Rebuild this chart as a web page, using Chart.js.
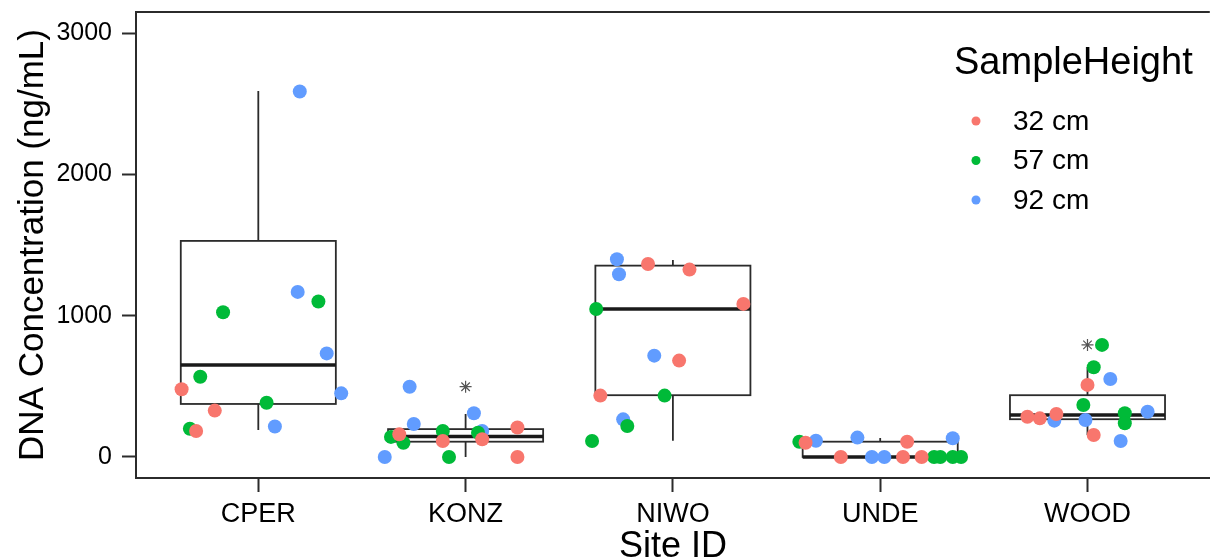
<!DOCTYPE html>
<html>
<head>
<meta charset="utf-8">
<script src="https://cdn.jsdelivr.net/npm/chart.js@4.4.1/dist/chart.umd.min.js"></script>
<style>
  body { margin: 0; background: #fff; }
  #wrap { width: 1217px; height: 560px; }
</style>
</head>
<body>
<div id="wrap"><canvas id="dnaChart" width="1217" height="560"></canvas></div>
<script>
// categories
const sites = ["CPER", "KONZ", "NIWO", "UNDE", "WOOD"];
const yTicks = [0, 1000, 2000, 3000];

// box plot stats per site
const boxQ1 = [375, 108, 437, 0, 267];
const boxMedian = [651, 144, 1047, 0, 297];
const boxQ3 = [1529, 197, 1354, 108, 437];
const whiskerLow = [191, 0, 115, 0, 155];
const whiskerHigh = [2590, 304, 1394, 134, 635];

// outliers (stars)
const outlierSite = [1, 4];
const outlierValue = [497, 793];

// jittered points, 32 cm
const h32Site = [0, 0, 0, 1, 1, 1, 1, 1, 2, 2, 2, 2, 2, 3, 3, 3, 3, 3, 4, 4, 4, 4, 4];
const h32Jitter = [-0.37, -0.21, -0.30, 0.25, 0.08, -0.11, -0.32, 0.25, -0.12, 0.08, 0.34, 0.03, -0.35, -0.36, 0.13, -0.19, 0.11, 0.20, 0.00, -0.29, -0.23, -0.15, 0.03];
const h32Value = [479, 328, 184, 208, 125, 113, 160, 0, 1366, 1326, 1083, 682, 434, 101, 108, 0, 0, 0, 510, 285, 273, 304, 155];

// 57 cm
const h57Site = [0, 0, 0, 0, 0, 1, 1, 1, 1, 1, 2, 2, 2, 2, 3, 3, 3, 3, 3, 4, 4, 4, 4, 4];
const h57Jitter = [0.29, -0.17, -0.28, 0.04, -0.33, -0.11, 0.06, -0.36, -0.30, -0.08, -0.37, -0.04, -0.22, -0.39, -0.39, 0.26, 0.29, 0.35, 0.39, 0.07, 0.03, -0.02, 0.18, 0.18];
const h57Value = [1100, 1024, 568, 384, 200, 184, 172, 142, 101, 0, 1047, 434, 219, 113, 108, 0, 0, 0, 0, 793, 635, 368, 309, 238];

// 92 cm
const h92Site = [0, 0, 0, 0, 0, 1, 1, 1, 1, 1, 2, 2, 2, 2, 3, 3, 3, 3, 3, 4, 4, 4, 4, 4];
const h92Jitter = [0.20, 0.19, 0.33, 0.40, 0.08, -0.27, -0.25, 0.04, 0.08, -0.39, -0.27, -0.26, -0.09, -0.24, -0.31, -0.11, 0.35, -0.04, 0.02, 0.11, -0.16, -0.01, 0.29, 0.16];
const h92Value = [2586, 1168, 733, 450, 215, 497, 233, 309, 184, 0, 1399, 1293, 717, 266, 115, 137, 132, 0, 0, 552, 257, 262, 320, 113];

const seriesLabels = ["32 cm", "57 cm", "92 cm"];
const seriesColors = ["#F8766D", "#00BA38", "#619CFF"];

const FONT = "'Liberation Sans', Arial, sans-serif";
const LINE = "#2b2b2b";

function toPoints(site, jitter, value) {
  return value.map((v, i) => ({ x: site[i] + jitter[i], y: v }));
}

//Box plots drawn under the points
const boxPlugin = {
  id: "boxes",
  beforeDatasetsDraw(chart) {
    const { ctx, scales: { x, y }, chartArea } = chart;
    const half = 0.374;
    ctx.save();
    ctx.strokeStyle = LINE;
    sites.forEach((s, i) => {
      const l = x.getPixelForValue(i - half);
      const r = x.getPixelForValue(i + half);
      const c = x.getPixelForValue(i);
      const q1 = y.getPixelForValue(boxQ1[i]);
      const q3 = y.getPixelForValue(boxQ3[i]);
      const md = y.getPixelForValue(boxMedian[i]);
      ctx.lineWidth = 1.8;
      ctx.beginPath();
      ctx.moveTo(c, q3);
      ctx.lineTo(c, y.getPixelForValue(whiskerHigh[i]));
      ctx.moveTo(c, q1);
      ctx.lineTo(c, y.getPixelForValue(whiskerLow[i]));
      ctx.stroke();
      ctx.strokeRect(l, q3, r - l, q1 - q3);
      ctx.lineWidth = 3.5;
      ctx.strokeStyle = "#1a1a1a";
      ctx.beginPath();
      ctx.moveTo(l, md);
      ctx.lineTo(r, md);
      ctx.stroke();
      ctx.strokeStyle = LINE;
    });
    // top border of panel
    ctx.lineWidth = 2;
    ctx.beginPath();
    ctx.moveTo(chartArea.left, chartArea.top);
    ctx.lineTo(chartArea.right, chartArea.top);
    ctx.stroke();
    ctx.restore();
  },
};

//Legend with title, drawn in the panel
const legendPlugin = {
  id: "sampleLegend",
  afterDraw(chart) {
    const ctx = chart.ctx;
    ctx.save();
    ctx.fillStyle = "#000";
    ctx.textBaseline = "middle";
    ctx.font = "38px " + FONT;
    ctx.fillText("SampleHeight", 954, 64);
    ctx.font = "28px " + FONT;
    seriesLabels.forEach((lab, i) => {
      const cy = 121 + i * 39.5;
      ctx.fillStyle = seriesColors[i];
      ctx.beginPath();
      ctx.arc(976, cy, 4.5, 0, Math.PI * 2);
      ctx.fill();
      ctx.fillStyle = "#000";
      ctx.fillText(lab, 1013, cy + 1);
    });
    ctx.restore();
  },
};

const pointData = {
  datasets: [
    {
      label: seriesLabels[0],
      data: toPoints(h32Site, h32Jitter, h32Value),
      backgroundColor: seriesColors[0],
      borderWidth: 0,
      pointRadius: 7,
    },
    {
      label: seriesLabels[1],
      data: toPoints(h57Site, h57Jitter, h57Value),
      backgroundColor: seriesColors[1],
      borderWidth: 0,
      pointRadius: 7,
    },
    {
      label: seriesLabels[2],
      data: toPoints(h92Site, h92Jitter, h92Value),
      backgroundColor: seriesColors[2],
      borderWidth: 0,
      pointRadius: 7,
    },
    {
      label: "outliers",
      data: outlierValue.map((v, i) => ({ x: outlierSite[i], y: v })),
      pointStyle: "star",
      pointRadius: 6,
      borderColor: "#555",
      borderWidth: 1.2,
      backgroundColor: "transparent",
    },
  ],
};

const chartConfig = {
  type: "scatter",
  data: pointData,
  options: {
    responsive: false,
    animation: false,
    devicePixelRatio: 1,
    layout: { padding: { top: 12, right: 0, left: 0, bottom: 0 } },
    plugins: { legend: { display: false }, tooltip: { enabled: false } },
    scales: {
      x: {
        type: "linear",
        min: -0.59,
        max: 4.59,
        afterBuildTicks: (scale) => {
          scale.ticks = sites.map((s, i) => ({ value: i }));
        },
        afterFit: (scale) => {
          scale.height = 82;
          scale.paddingLeft = 0;
          scale.paddingRight = 0;
        },
        ticks: {
          callback: (v) => sites[v],
          color: "#000",
          font: { family: FONT, size: 27 },
          padding: 6,
          maxRotation: 0,
        },
        grid: {
          display: true,
          drawOnChartArea: false,
          drawTicks: true,
          tickLength: 14,
          tickWidth: 2,
          color: LINE,
        },
        border: { display: true, color: LINE, width: 2 },
        title: {
          display: true,
          text: "Site ID",
          color: "#000",
          font: { family: FONT, size: 36 },
          padding: { top: 0, bottom: -9 },
        },
      },
      y: {
        type: "linear",
        min: -149,
        max: 3149,
        afterBuildTicks: (scale) => {
          scale.ticks = yTicks.map((v) => ({ value: v }));
        },
        afterFit: (scale) => {
          scale.width = 136;
          scale.paddingTop = 0;
          scale.paddingBottom = 0;
        },
        ticks: {
          callback: (v) => String(v),
          color: "#000",
          font: { family: FONT, size: 25 },
          padding: 10,
        },
        grid: {
          display: true,
          drawOnChartArea: false,
          drawTicks: true,
          tickLength: 14,
          tickWidth: 2,
          color: LINE,
        },
        border: { display: true, color: LINE, width: 2 },
        title: {
          display: true,
          text: "DNA Concentration (ng/mL)",
          color: "#000",
          font: { family: FONT, size: 35 },
          padding: { top: 12, bottom: 0 },
        },
      },
    },
  },
  plugins: [boxPlugin, legendPlugin],
};

const dnaChart = new Chart(document.getElementById("dnaChart"), chartConfig);
console.log(dnaChart);
</script>
</body>
</html>
